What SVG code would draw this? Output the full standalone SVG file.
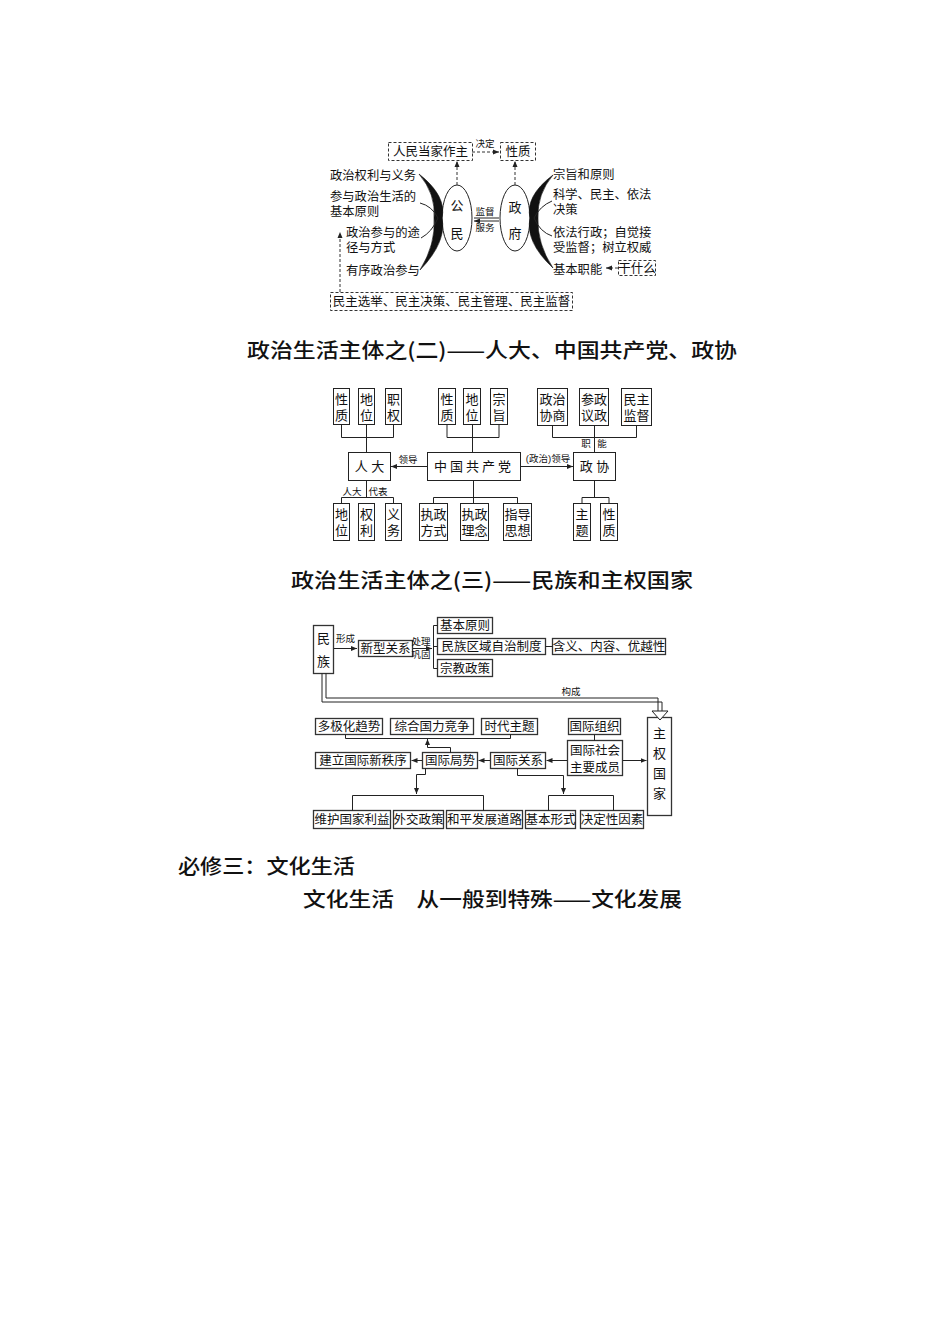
<svg xmlns="http://www.w3.org/2000/svg" width="950" height="1344" viewBox="0 0 950 1344">
<style>
text{font-family:"Liberation Sans","Noto Sans CJK SC",sans-serif;fill:#111}
.h{font-family:"Noto Sans CJK SC",sans-serif;font-size:20.5px;font-weight:500}
.s{font-size:12.3px}
.m{font-size:12.5px;text-anchor:middle}
.v{font-size:13px;text-anchor:middle}
.sm{font-size:9.5px;text-anchor:middle}
.b{fill:#fff;stroke:#222;stroke-width:1}
.b3{fill:#fff;stroke:#333;stroke-width:1.3}
.db{fill:#fff;stroke:#333;stroke-width:1;stroke-dasharray:3 2}
.l{fill:none;stroke:#222;stroke-width:1}
.dl{fill:none;stroke:#333;stroke-width:1;stroke-dasharray:3 2}
.e{fill:#fff;stroke:#222;stroke-width:1}
.br{fill:#111;stroke:#111;stroke-width:0.6}
</style>
<defs>
<marker id="a" markerUnits="userSpaceOnUse" markerWidth="6" markerHeight="6" refX="6" refY="3" orient="auto"><path d="M0,0.5 L6,3 L0,5.5 z" fill="#222"/></marker>
</defs>

<!-- ===== Diagram 1 ===== -->
<g id="renmin"><rect class="db" x="388.5" y="142.5" width="84" height="18"/><text class="m" x="430.5" y="156">人民当家作主</text></g>
<g id="xingzhi0"><rect class="db" x="500.5" y="142.5" width="35" height="18"/><text class="m" x="518" y="156">性质</text></g>
<g id="gongmin"><ellipse class="e" cx="457" cy="218" rx="15" ry="33"/><text class="v" x="457" y="210">公</text><text class="v" x="457" y="238">民</text></g>
<g id="zhengfu"><ellipse class="e" cx="515" cy="218" rx="15" ry="33"/><text class="v" x="515" y="212">政</text><text class="v" x="515" y="238">府</text></g>
<g id="leftlabels">
<text class="s" x="330" y="179.5">政治权利与义务</text>
<text class="s" x="330" y="200.5">参与政治生活的</text>
<text class="s" x="330" y="215.5">基本原则</text>
<text class="s" x="346" y="236.5">政治参与的途</text>
<text class="s" x="346" y="251.5">径与方式</text>
<text class="s" x="346" y="274.5">有序政治参与</text>
</g>
<g id="rightlabels">
<text class="s" x="553" y="179">宗旨和原则</text>
<text class="s" x="553" y="198.5">科学、民主、依法</text>
<text class="s" x="553" y="214">决策</text>
<text class="s" x="553" y="236.5">依法行政；自觉接</text>
<text class="s" x="553" y="251.5">受监督；树立权威</text>
<text class="s" x="553" y="273.5">基本职能</text>
</g>
<g id="ganshenme"><rect class="db" x="618.5" y="260.5" width="37" height="15"/><text class="m" x="637" y="272.5">干什么</text></g>
<g id="minzhu"><rect class="db" x="330.5" y="292.5" width="242" height="18"/><text class="m" x="451.5" y="306">民主选举、民主决策、民主管理、民主监督</text></g>
<g id="connectors1">
<path class="br" d="M419 174 Q447 196 442 218 Q447 242 420 270 Q436 244 434 218 Q436 194 419 174 Z"/>
<path class="l" stroke-width="1.6" d="M420 203 Q432 206 438 218 M421 238 Q432 232 438 218"/>
<path class="br" d="M553 175 Q525 196 530 218 Q525 242 553 268 Q537 244 538 218 Q537 194 553 175 Z"/>
<path class="l" stroke-width="1.6" d="M552 201 Q540 206 534 218 M552 236 Q540 232 534 218"/>
<line class="dl" x1="472" y1="152" x2="499" y2="152" marker-end="url(#a)"/>
<text class="sm" x="485" y="147">决定</text>
<line class="dl" x1="457" y1="185" x2="457" y2="161" marker-end="url(#a)"/>
<line class="dl" x1="515" y1="185" x2="515" y2="161" marker-end="url(#a)"/>
<text class="sm" x="485" y="214.5">监督</text>
<text class="sm" x="485" y="231">服务</text>
<line class="l" x1="474" y1="218" x2="499" y2="218" stroke-width="0.8"/>
<line class="l" x1="499" y1="221" x2="474" y2="221" stroke-width="0.8" marker-end="url(#a)"/>
<line class="dl" x1="618" y1="268" x2="606" y2="268" marker-end="url(#a)"/>
<line class="dl" x1="340" y1="292" x2="340" y2="232" marker-end="url(#a)"/>
</g>

<!-- ===== Heading 2 ===== -->
<text class="h" x="247" y="358" textLength="490" lengthAdjust="spacingAndGlyphs">政治生活主体之(二)——人大、中国共产党、政协</text>

<!-- ===== Diagram 2 ===== -->
<g id="rd-xz"><rect class="b" x="333.5" y="388.5" width="16" height="36"/><text class="v" x="341.5" y="403.5">性</text><text class="v" x="341.5" y="419.5">质</text></g>
<g id="rd-dw"><rect class="b" x="358.5" y="388.5" width="16" height="36"/><text class="v" x="366.5" y="403.5">地</text><text class="v" x="366.5" y="419.5">位</text></g>
<g id="rd-zq"><rect class="b" x="385.5" y="388.5" width="16" height="36"/><text class="v" x="393.5" y="403.5">职</text><text class="v" x="393.5" y="419.5">权</text></g>
<g id="renda"><rect class="b" x="348.5" y="452.5" width="42" height="28"/><text class="v" x="369.5" y="471">人 大</text></g>
<g id="rd-dw2"><rect class="b" x="333.5" y="503.5" width="16" height="37"/><text class="v" x="341.5" y="518.5">地</text><text class="v" x="341.5" y="534.5">位</text></g>
<g id="rd-ql"><rect class="b" x="358.5" y="503.5" width="16" height="37"/><text class="v" x="366.5" y="518.5">权</text><text class="v" x="366.5" y="534.5">利</text></g>
<g id="rd-yw"><rect class="b" x="385.5" y="503.5" width="16" height="37"/><text class="v" x="393.5" y="518.5">义</text><text class="v" x="393.5" y="534.5">务</text></g>

<g id="cpc-xz"><rect class="b" x="438.5" y="388.5" width="17" height="36"/><text class="v" x="447" y="403.5">性</text><text class="v" x="447" y="419.5">质</text></g>
<g id="cpc-dw"><rect class="b" x="463.5" y="388.5" width="17" height="36"/><text class="v" x="472" y="403.5">地</text><text class="v" x="472" y="419.5">位</text></g>
<g id="cpc-zz"><rect class="b" x="490.5" y="388.5" width="17" height="36"/><text class="v" x="499" y="403.5">宗</text><text class="v" x="499" y="419.5">旨</text></g>
<g id="cpc"><rect class="b" x="427.5" y="452.5" width="93" height="28"/><text class="v" x="474" y="471" letter-spacing="3">中国共产党</text></g>
<g id="cpc-fs"><rect class="b" x="419.5" y="503.5" width="28" height="37"/><text class="v" x="433.5" y="518.5">执政</text><text class="v" x="433.5" y="534.5">方式</text></g>
<g id="cpc-ln"><rect class="b" x="460.5" y="503.5" width="28" height="37"/><text class="v" x="474.5" y="518.5">执政</text><text class="v" x="474.5" y="534.5">理念</text></g>
<g id="cpc-zd"><rect class="b" x="503.5" y="503.5" width="28" height="37"/><text class="v" x="517.5" y="518.5">指导</text><text class="v" x="517.5" y="534.5">思想</text></g>

<g id="zx-xs"><rect class="b" x="537.5" y="388.5" width="30" height="37"/><text class="v" x="552.5" y="403.5">政治</text><text class="v" x="552.5" y="419.5">协商</text></g>
<g id="zx-yz"><rect class="b" x="579.5" y="388.5" width="29" height="37"/><text class="v" x="594" y="403.5">参政</text><text class="v" x="594" y="419.5">议政</text></g>
<g id="zx-jd"><rect class="b" x="621.5" y="388.5" width="30" height="37"/><text class="v" x="636.5" y="403.5">民主</text><text class="v" x="636.5" y="419.5">监督</text></g>
<g id="zhengxie"><rect class="b" x="573.5" y="452.5" width="42" height="28"/><text class="v" x="594.5" y="471">政 协</text></g>
<g id="zx-zt"><rect class="b" x="573.5" y="503.5" width="17" height="37"/><text class="v" x="582" y="518.5">主</text><text class="v" x="582" y="534.5">题</text></g>
<g id="zx-xz"><rect class="b" x="600.5" y="503.5" width="17" height="37"/><text class="v" x="609" y="518.5">性</text><text class="v" x="609" y="534.5">质</text></g>

<g id="connectors2">
<path class="l" d="M341.5 424.5 V437.5 H393.5 V424.5 M366.5 424.5 V452.5"/>
<path class="l" d="M366.5 480.5 V497.5 M341.5 503.5 V497.5 H393.5 V503.5"/>
<text class="sm" x="352" y="494.5">人大</text><text class="sm" x="378" y="494.5">代表</text>
<path class="l" d="M447 424.5 V437.5 H499 V424.5 M472.5 424.5 V452.5"/>
<path class="l" d="M473.5 480.5 V503.5 M433.5 503.5 V497.5 H517.5 V503.5"/>
<path class="l" d="M552.5 425.5 V437.5 H636.5 V425.5 M594.5 425.5 V452.5"/>
<text class="sm" x="586" y="446.5">职</text><text class="sm" x="602" y="446.5">能</text>
<path class="l" d="M594.5 480.5 V497.5 M582 503.5 V497.5 H609 V503.5"/>
<line class="l" x1="427" y1="466.5" x2="391" y2="466.5" marker-end="url(#a)"/>
<text class="sm" x="408" y="463">领导</text>
<line class="l" x1="521" y1="466.5" x2="573" y2="466.5" marker-end="url(#a)"/>
<text class="sm" x="548" y="462">(政治)领导</text>
</g>

<!-- ===== Heading 3 ===== -->
<text class="h" x="291" y="588" textLength="402" lengthAdjust="spacingAndGlyphs">政治生活主体之(三)——民族和主权国家</text>

<!-- ===== Diagram 3 ===== -->
<g id="minzu"><rect class="b3" x="313.5" y="625.5" width="20" height="48"/><text class="v" x="323.5" y="643">民</text><text class="v" x="323.5" y="665.5">族</text></g>
<g id="xinxing"><rect class="b3" x="358.5" y="640.5" width="54" height="16"/><text class="m" x="385.5" y="653" font-size="12">新型关系</text></g>
<g id="jbyz"><rect class="b3" x="437.5" y="617.5" width="55" height="16"/><text class="m" x="465" y="630">基本原则</text></g>
<g id="qyzz"><rect class="b3" x="437.5" y="638.5" width="108" height="16"/><text class="m" x="491.5" y="651">民族区域自治制度</text></g>
<g id="hanyi"><rect class="b3" x="552.5" y="638.5" width="113" height="16"/><text class="m" x="609" y="651" font-size="12">含义、内容、优越性</text></g>
<g id="zjzc"><rect class="b3" x="437.5" y="659.5" width="55" height="17"/><text class="m" x="465" y="672.5">宗教政策</text></g>
<g id="zhuquan"><rect class="b3" x="647.5" y="717.5" width="24" height="98"/><text class="v" x="659.5" y="737.5">主</text><text class="v" x="659.5" y="757.5">权</text><text class="v" x="659.5" y="777.5">国</text><text class="v" x="659.5" y="797.5">家</text></g>
<g id="gjzz"><rect class="b3" x="568.5" y="718.5" width="52" height="16"/><text class="m" x="594.5" y="731">国际组织</text></g>
<g id="gjsh"><rect class="b3" x="567.5" y="740.5" width="55" height="35"/><text class="m" x="595" y="755">国际社会</text><text class="m" x="595" y="771.5">主要成员</text></g>
<g id="gjgx"><rect class="b3" x="490.5" y="752.5" width="55" height="16"/><text class="m" x="518" y="765">国际关系</text></g>
<g id="gjjs"><rect class="b3" x="422.5" y="752.5" width="55" height="16"/><text class="m" x="450" y="765">国际局势</text></g>
<g id="jlgj"><rect class="b3" x="315.5" y="752.5" width="95" height="16"/><text class="m" x="363" y="765">建立国际新秩序</text></g>
<g id="djh"><rect class="b3" x="315.5" y="718.5" width="67" height="16"/><text class="m" x="349" y="731">多极化趋势</text></g>
<g id="zhgl"><rect class="b3" x="390.5" y="718.5" width="83" height="16"/><text class="m" x="432" y="731">综合国力竞争</text></g>
<g id="sdzt"><rect class="b3" x="481.5" y="718.5" width="56" height="16"/><text class="m" x="509.5" y="731">时代主题</text></g>
<g id="whgj"><rect class="b3" x="313.5" y="810.5" width="77" height="18"/><text class="m" x="352" y="824" font-size="12">维护国家利益</text></g>
<g id="wjzc"><rect class="b3" x="393.5" y="810.5" width="50" height="18"/><text class="m" x="418.5" y="824" font-size="12">外交政策</text></g>
<g id="hpfz"><rect class="b3" x="446.5" y="810.5" width="76" height="18"/><text class="m" x="484.5" y="824" font-size="12">和平发展道路</text></g>
<g id="jbxs"><rect class="b3" x="525.5" y="810.5" width="50" height="18"/><text class="m" x="550.5" y="824" font-size="12">基本形式</text></g>
<g id="jdxys"><rect class="b3" x="580.5" y="810.5" width="63" height="18"/><text class="m" x="612" y="824" font-size="12">决定性因素</text></g>

<g id="connectors3">
<line class="l" x1="334" y1="648.5" x2="357" y2="648.5" marker-end="url(#a)"/>
<text class="sm" x="345.5" y="642">形成</text>
<line class="l" x1="413" y1="648.5" x2="432" y2="648.5" marker-end="url(#a)"/>
<text class="sm" x="421" y="645" font-size="8.5">处理</text>
<text class="sm" x="421" y="657.5" font-size="8.5">巩固</text>
<path class="l" d="M437.5 625.5 H433.5 V668.5 H437.5 M433.5 646.5 H437.5"/>
<line class="l" x1="545.5" y1="646.5" x2="552.5" y2="646.5"/>
<path class="l" d="M322 673.5 V702 H662 V711"/>
<path class="l" d="M326 673.5 V698 H658 V711"/>
<path d="M652 711 H668 L660 720 Z" fill="#fff" stroke="#222" stroke-width="1"/>
<text class="sm" x="571" y="695">构成</text>
<line class="l" x1="594.5" y1="734.5" x2="594.5" y2="740.5"/>
<line class="l" x1="623" y1="760.5" x2="646.5" y2="760.5" marker-end="url(#a)"/>
<line class="l" x1="567" y1="760.5" x2="546.5" y2="760.5" marker-end="url(#a)"/>
<line class="l" x1="490" y1="760.5" x2="478.5" y2="760.5" marker-end="url(#a)"/>
<line class="l" x1="422" y1="760.5" x2="411.5" y2="760.5" marker-end="url(#a)"/>
<path class="l" d="M345.5 734.5 V738.5 H510.5 V734.5"/>
<path class="l" d="M450.5 752.5 V747.5 H427.5 V739" marker-end="url(#a)"/>
<path class="l" d="M425.5 768.5 V774.5 H416.5 V794" marker-end="url(#a)"/>
<path class="l" d="M352.5 810.5 V795.5 H483.5 V810.5"/>
<path class="l" d="M517.5 768.5 V775.5 H563.5 V794" marker-end="url(#a)"/>
<path class="l" d="M548.5 810.5 V795.5 H613.5 V810.5"/>
</g>

<!-- ===== Headings 4/5 ===== -->
<text class="h" x="178" y="874" textLength="177" lengthAdjust="spacingAndGlyphs">必修三：文化生活</text>
<text class="h" x="303" y="907" textLength="379" lengthAdjust="spacingAndGlyphs">文化生活　从一般到特殊——文化发展</text>
</svg>
